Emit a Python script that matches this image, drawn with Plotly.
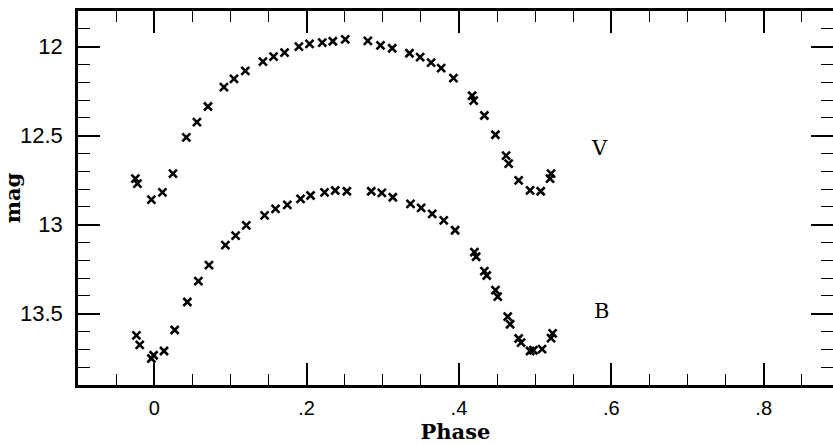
import plotly.graph_objects as go

# V light curve
v_phase = [-0.0247, -0.0220, -0.0037, 0.0108, 0.0247, 0.0422, 0.0561, 0.0706, 0.0915, 0.1047,
           0.1196, 0.1427, 0.1567, 0.1711, 0.1899, 0.2039, 0.2206, 0.2345, 0.2508, 0.2804,
           0.2970, 0.3124, 0.3351, 0.3491, 0.3635, 0.3767, 0.3928, 0.4173, 0.4194, 0.4334,
           0.4479, 0.4619, 0.4653, 0.4784, 0.4934, 0.5073, 0.5209, 0.5196]
v_mag = [12.741, 12.769, 12.859, 12.818, 12.713, 12.510, 12.424, 12.336, 12.227, 12.181,
         12.136, 12.084, 12.056, 12.034, 12.000, 11.985, 11.978, 11.970, 11.959, 11.968,
         11.993, 12.009, 12.037, 12.059, 12.090, 12.121, 12.177, 12.276, 12.303, 12.387,
         12.495, 12.612, 12.657, 12.751, 12.807, 12.812, 12.713, 12.741]

# B light curve
b_phase = [-0.0233, -0.0190, -0.0037, -0.0007, 0.0129, 0.0269, 0.0435, 0.0580, 0.0719, 0.0934,
           0.1069, 0.1209, 0.1449, 0.1593, 0.1747, 0.1921, 0.2052, 0.2236, 0.2376, 0.2529,
           0.2849, 0.2988, 0.3132, 0.3364, 0.3504, 0.3649, 0.3801, 0.3950, 0.4203, 0.4226,
           0.4334, 0.4365, 0.4479, 0.4509, 0.4640, 0.4672, 0.4784, 0.4816, 0.4934, 0.4977,
           0.5091, 0.5230, 0.5209]
b_mag = [13.621, 13.675, 13.751, 13.733, 13.709, 13.591, 13.434, 13.317, 13.227, 13.115,
         13.061, 13.004, 12.948, 12.911, 12.889, 12.855, 12.836, 12.818, 12.808, 12.812,
         12.812, 12.821, 12.846, 12.883, 12.905, 12.939, 12.976, 13.031, 13.154, 13.180,
         13.261, 13.285, 13.367, 13.404, 13.516, 13.559, 13.639, 13.662, 13.709, 13.705,
         13.699, 13.610, 13.637]

x_tickvals = [0, 0.2, 0.4, 0.6, 0.8]
x_ticktext = ["0", ".2", ".4", ".6", ".8"]
y_tickvals = [12, 12.5, 13, 13.5]
y_ticktext = ["12", "12.5", "13", "13.5"]

band_labels = ["V", "B"]
band_label_phase = [0.584, 0.587]
band_label_mag = [12.568, 13.485]

marker = dict(symbol="x-thin", size=8, color="black", line=dict(color="black", width=2.6))

fig = go.Figure()
fig.add_trace(go.Scatter(x=v_phase, y=v_mag, mode="markers", marker=marker, name="V",
                         showlegend=False))
fig.add_trace(go.Scatter(x=b_phase, y=b_mag, mode="markers", marker=marker, name="B",
                         showlegend=False))

for lab, px, py in zip(band_labels, band_label_phase, band_label_mag):
    fig.add_annotation(x=px, y=py, text=lab, showarrow=False,
                       font=dict(family="DejaVu Serif", size=21, color="black"))

axis_common = dict(showline=True, linecolor="black", linewidth=2.5, mirror="ticks",
                   ticks="inside", ticklen=22, tickwidth=1.6, tickcolor="black",
                   showgrid=False, zeroline=False, automargin=False)

title_font = dict(family="DejaVu Serif", size=21, color="black", weight="bold")

fig.update_xaxes(range=[-0.1, 0.891], tickvals=x_tickvals, ticktext=x_ticktext,
                 minor=dict(ticks="inside", dtick=0.05, tick0=0, ticklen=11, tickwidth=1.4,
                            tickcolor="black", showgrid=False),
                 ticklabelstandoff=3,
                 tickfont=dict(family="Liberation Sans", size=20, color="black"),
                 title=dict(text="Phase", standoff=2, font=title_font),
                 **axis_common)
fig.update_yaxes(range=[13.9, 11.8], tickvals=y_tickvals, ticktext=y_ticktext,
                 minor=dict(ticks="inside", dtick=0.1, tick0=12, ticklen=12, tickwidth=1.4,
                            tickcolor="black", showgrid=False),
                 ticklabelstandoff=8,
                 tickfont=dict(family="Liberation Sans", size=22, color="black"),
                 title=dict(text="mag", standoff=8, font=title_font),
                 **axis_common)

fig.update_layout(width=833, height=445, margin=dict(l=78, r=0, t=11, b=60),
                  paper_bgcolor="white", plot_bgcolor="white")

fig.write_html("out.html", config={"displayModeBar": False},
               post_script="document.body.style.margin='0';")
